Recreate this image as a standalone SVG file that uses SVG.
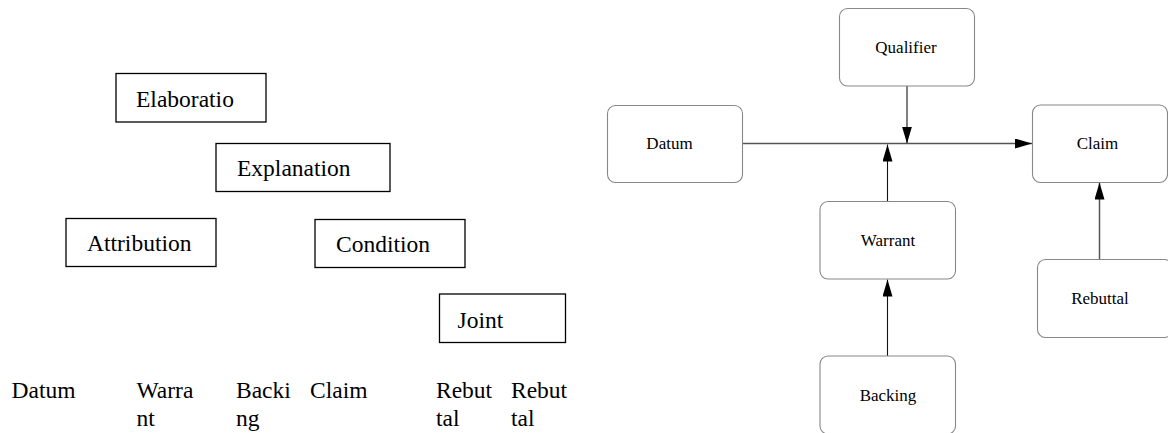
<svg xmlns="http://www.w3.org/2000/svg" width="1168" height="433" viewBox="0 0 1168 433">
<style>
.bx{fill:#fff;stroke:#000;stroke-width:1.3}
.rb{fill:#fff;stroke:#888;stroke-width:1.1}
.t{font-family:"Liberation Serif","Times New Roman",serif;font-size:23.5px;fill:#000}
.s{font-family:"Liberation Serif","Times New Roman",serif;font-size:17px;fill:#000;text-anchor:middle}
.c{fill:none;stroke:#555;stroke-width:1.5}
.k{fill:none;stroke:#111;stroke-width:1.1}
</style>
<defs>
<marker id="ah" viewBox="0 0 17 10" refX="17" refY="5" markerWidth="17" markerHeight="10" markerUnits="userSpaceOnUse" orient="auto">
<path d="M0,0 L17,5 L0,10 Z" fill="#000"/>
</marker>
</defs>
<rect width="1168" height="433" fill="#fff"/>
<g id="elaboratio"><rect class="bx" x="116" y="73.5" width="150" height="48.5"/><text class="t" x="136" y="106.5">Elaboratio</text></g>
<g id="explanation"><rect class="bx" x="216" y="143.5" width="174" height="48"/><text class="t" x="237" y="176">Explanation</text></g>
<g id="attribution"><rect class="bx" x="66" y="218.5" width="150" height="48"/><text class="t" x="87" y="251">Attribution</text></g>
<g id="condition"><rect class="bx" x="315" y="219.5" width="150" height="48"/><text class="t" x="336" y="252">Condition</text></g>
<g id="joint"><rect class="bx" x="439.5" y="294" width="126" height="48.5"/><text class="t" x="457.5" y="327.5">Joint</text></g>
<g id="labels">
<text class="t" x="11.5" y="398">Datum</text>
<text class="t" x="136.5" y="398">Warra</text><text class="t" x="136.5" y="426">nt</text>
<text class="t" x="236" y="398">Backi</text><text class="t" x="236" y="426">ng</text>
<text class="t" x="310" y="398">Claim</text>
<text class="t" x="436" y="398">Rebut</text><text class="t" x="436" y="426">tal</text>
<text class="t" x="511" y="398">Rebut</text><text class="t" x="511" y="426">tal</text>
</g>
<g id="connectors">
<line class="c" x1="743" y1="143.5" x2="1032" y2="143.5" marker-end="url(#ah)"/>
<line class="c" x1="907" y1="86" x2="907" y2="143.5" marker-end="url(#ah)"/>
<line class="k" x1="887.5" y1="201.5" x2="887.5" y2="144.5" marker-end="url(#ah)"/>
<line class="k" x1="887.5" y1="356" x2="887.5" y2="279.5" marker-end="url(#ah)"/>
<line class="c" x1="1099.5" y1="259.5" x2="1099.5" y2="182.5" marker-end="url(#ah)"/>
</g>
<g id="qualifier"><rect class="rb" x="839.5" y="8.5" width="135" height="77.5" rx="8"/><text class="s" x="906" y="53">Qualifier</text></g>
<g id="datum"><rect class="rb" x="607.5" y="105.5" width="135" height="77" rx="8"/><text class="s" x="669.5" y="149">Datum</text></g>
<g id="claim"><rect class="rb" x="1032.5" y="105" width="135" height="77.5" rx="8"/><text class="s" x="1097.5" y="149">Claim</text></g>
<g id="warrant"><rect class="rb" x="820" y="201.5" width="135.5" height="77.5" rx="8"/><text class="s" x="888" y="246">Warrant</text></g>
<g id="rebuttal"><rect class="rb" x="1037.5" y="259.5" width="135" height="78" rx="8"/><text class="s" x="1100" y="303.5">Rebuttal</text></g>
<g id="backing"><rect class="rb" x="820" y="356" width="135.5" height="78" rx="8"/><text class="s" x="888" y="401">Backing</text></g>
</svg>
